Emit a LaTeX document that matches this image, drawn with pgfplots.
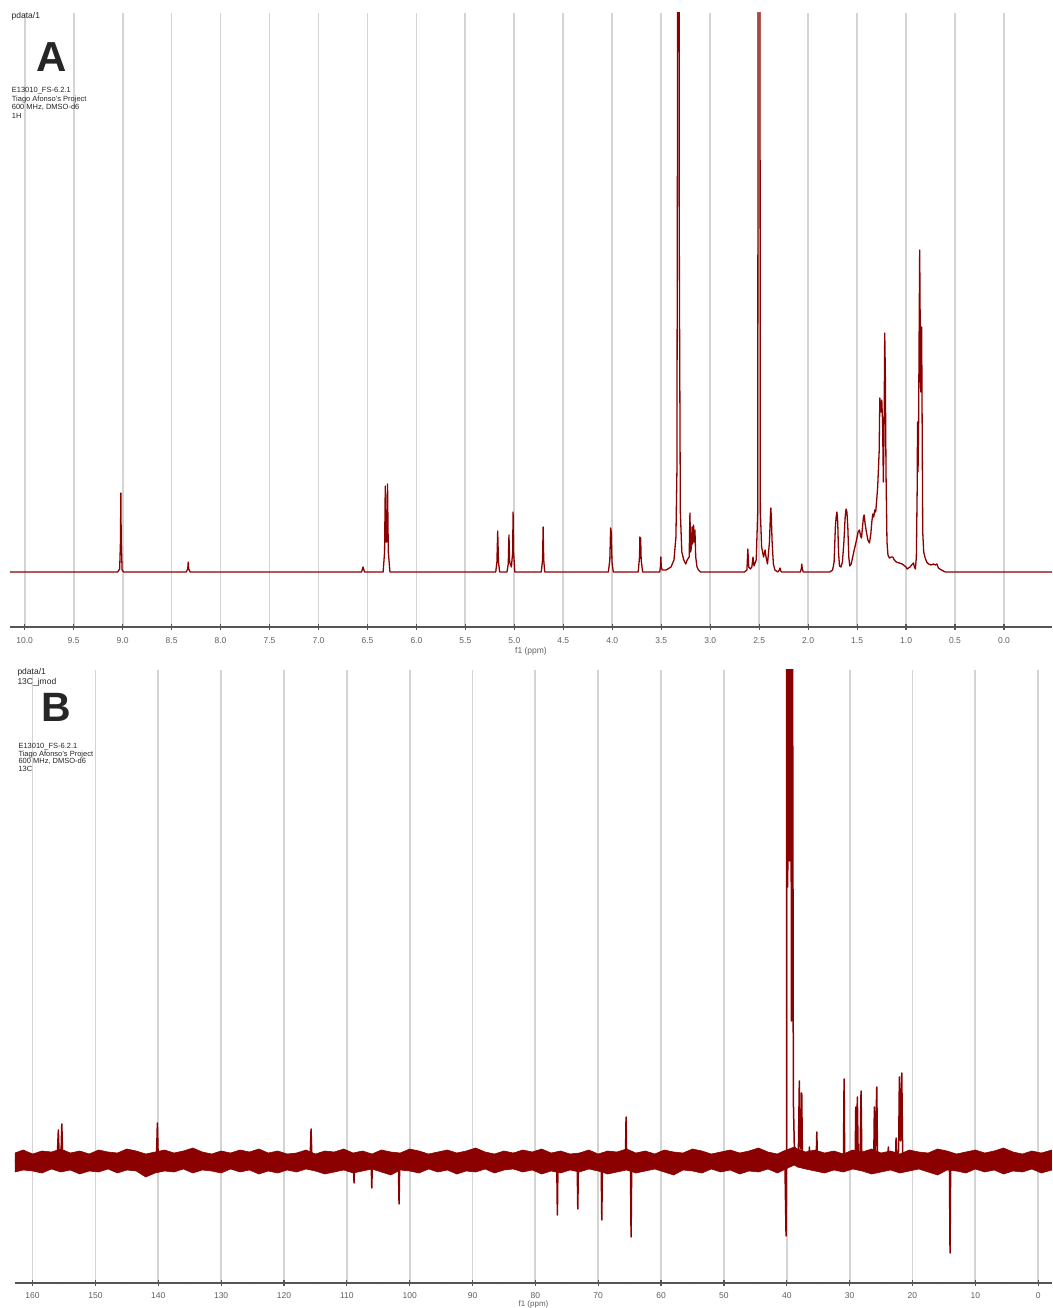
\documentclass[border=0pt]{standalone}
\usepackage{fontspec}
\setmainfont{Liberation Sans}
\usepackage{pgfplots}
\pgfplotsset{compat=1.18}
\definecolor{spec}{RGB}{139,0,0}
\definecolor{gridc}{RGB}{212,212,212}
\definecolor{axc}{RGB}{85,85,85}
\definecolor{tickc}{RGB}{95,95,95}

\pgfplotsset{nmr/.style={
  scale only axis, x dir=reverse,
  axis x line=bottom, axis y line=none,
  axis line style={-, axc, line width=1.8pt},
  xmajorgrids, grid style={gridc, line width=1.8pt},
  ytick=\empty,
  tick align=center, major tick length=6pt, minor tick length=2.5pt,
  every tick/.style={axc, line width=1.2pt},
  minor x tick num=1,
  xticklabel style={font=\fontsize{8.5}{9}\selectfont, text=tickc},
  /pgf/number format/assume math mode=true,
  xlabel style={font=\fontsize{8.5}{9}\selectfont, text=tickc, at={(axis description cs:0.5,0)}, anchor=center},
  clip=true,
}}

\begin{document}
\begin{tikzpicture}
\useasboundingbox (0,0) rectangle (1052pt,1308pt);

% ---------------- Panel A: 1H ----------------
\begin{axis}[nmr, at={(10pt,681pt)}, anchor=south west,
  width=1042pt, height=614pt,
  xmin=-0.49, xmax=10.15, ymin=-55, ymax=559,
  xtick={-0.5,0,...,10}, 
  xticklabel style={yshift=-4pt, /pgf/number format/.cd, fixed, fixed zerofill, precision=1},
  xlabel={f1 (ppm)}, xlabel style={yshift=-24pt}]
\addplot[spec, line width=1.3pt, line join=round] coordinates {
(10.15,0)(9.05,0)(9.03,3)(9.022,30)(9.018,79)(9.014,30)(9.005,2)(8.99,0)
(8.35,0)(8.335,3)(8.33,10)(8.325,3)(8.31,0)
(6.56,0)(6.545,5)(6.53,0)
(6.34,0)(6.325,20)(6.318,86)(6.31,30)(6.302,30)(6.295,88)(6.287,20)(6.27,0)
(5.19,0)(5.178,10)(5.17,41)(5.162,10)(5.15,0)
(5.075,0)(5.062,8)(5.055,37)(5.048,10)(5.03,5)(5.017,20)(5.013,60)(5.008,20)(4.995,0)
(4.725,0)(4.712,12)(4.706,45)(4.700,12)(4.69,0)
(4.04,0)(4.025,12)(4.017,44)(4.01,40)(4.003,10)(3.99,0)
(3.735,0)(3.722,15)(3.718,35)(3.714,25)(3.71,34)(3.705,12)(3.69,0)
(3.515,0)(3.508,6)(3.504,15)(3.5,5)(3.49,2)
(3.45,2)(3.40,5)(3.37,12)(3.35,35)(3.34,100)(3.335,400)(3.33,1000)(3.322,1000)(3.315,300)(3.305,60)(3.29,20)(3.27,12)(3.25,8)(3.235,12)
(3.215,15)(3.207,59)(3.200,20)(3.192,25)(3.185,45)(3.178,28)(3.170,47)(3.164,30)(3.156,42)(3.148,15)(3.135,5)(3.12,2)(3.10,0)
(2.65,0)(2.625,2)(2.616,23)(2.607,5)(2.59,3)(2.575,5)(2.563,15)(2.553,6)(2.53,12)(2.515,60)(2.508,1000)(2.495,1000)(2.488,60)(2.475,25)(2.455,15)(2.44,22)(2.43,15)(2.415,8)(2.395,30)(2.386,55)(2.381,64)(2.376,55)(2.368,30)(2.355,8)(2.34,2)(2.31,0)(2.295,2)(2.287,4)(2.28,1)(2.27,0)
(2.08,0)(2.07,3)(2.065,8)(2.06,3)(2.05,0)
(1.78,0)(1.75,2)(1.735,10)(1.722,45)(1.714,55)(1.706,60)(1.698,50)(1.69,20)(1.68,6)(1.665,5)(1.65,10)(1.635,30)(1.622,55)(1.613,63)(1.604,60)(1.595,45)(1.585,15)(1.575,6)(1.56,8)(1.545,15)(1.53,22)(1.515,28)(1.5,35)(1.49,40)(1.476,42)(1.465,36)(1.455,34)(1.445,45)(1.435,55)(1.428,57)(1.418,48)(1.405,40)(1.39,32)(1.374,29)(1.36,38)(1.35,50)(1.34,58)(1.33,55)(1.32,62)(1.31,60)(1.30,72)(1.29,85)(1.275,120)(1.268,174)(1.262,168)(1.255,160)(1.248,172)(1.24,150)(1.232,90)(1.225,140)(1.218,239)(1.212,200)(1.205,100)(1.195,30)(1.185,17)(1.17,14)(1.15,15)(1.135,15)(1.12,12)(1.10,10)(1.07,9)(1.04,8)(1.00,5)(0.99,3)(0.96,5)(0.935,8)(0.924,9)(0.915,5)(0.905,3)(0.895,15)(0.887,80)(0.883,150)(0.878,100)(0.872,150)(0.866,250)(0.861,322)(0.856,250)(0.851,180)(0.846,200)(0.841,245)(0.836,150)(0.83,40)(0.82,20)(0.805,14)(0.79,10)(0.77,8)(0.745,7)(0.72,8)(0.70,7)(0.685,8)(0.67,4)(0.64,2)(0.6,0)(0.58,0)(-0.49,0)
};
\end{axis}

% ---------------- Panel B: 13C jmod ----------------
\begin{axis}[nmr, at={(15pt,25pt)}, anchor=south west,
  width=1037pt, height=613pt,
  xmin=-2.2, xmax=162.8, ymin=-122, ymax=491,
  xtick={0,10,...,160},
  xticklabel style={yshift=-3pt},
  xlabel={f1 (ppm)}, xlabel style={yshift=-21.5pt, font=\fontsize{8}{9}\selectfont}]
% noise band (upper envelope then lower envelope)
\addplot[fill=spec, draw=spec, line width=0.6pt, line join=miter] coordinates {
(162.8,8)(161.5,11)(160,7)(158.5,10)(157,9)(155.5,12)(154,8)(152.5,10)(151,7)(149.5,11)(148,9)(146.5,8)(145,12)(143.5,10)(142,7)(140.5,9)(139,11)(137.5,8)(136,10)(134.5,13)(133,9)(131.5,7)(130,10)(128.5,8)(127,11)(125.5,9)(124,12)(122.5,8)(121,10)(119.5,7)(118,8)(116.5,11)(115,7)(113.5,10)(112,9)(110.5,12)(109,8)(107.5,10)(106,7)(104.5,11)(103,9)(101.5,8)(100,12)(98.5,10)(97,7)(95.5,9)(94,11)(92.5,8)(91,10)(89.5,13)(88,9)(86.5,7)(85,10)(83.5,8)(82,11)(80.5,9)(79,12)(77.5,8)(76,10)(74.5,7)(73,8)(71.5,11)(70,7)(68.5,10)(67,9)(65.5,12)(64,8)(62.5,10)(61,7)(59.5,11)(58,9)(56.5,8)(55,12)(53.5,10)(52,7)(50.5,9)(49,11)(47.5,8)(46,10)(44.5,13)(43,9)(41.5,7)(40.5,10)(38.8,14)(38.3,12)(37,9)(35.5,11)(34,8)(32.5,10)(31,7)(29.5,11)(28,9)(26.5,12)(25,8)(23.5,10)(22,7)(20.5,11)(19,9)(17.5,8)(16,12)(14.5,10)(13,7)(11.5,9)(10,11)(8.5,8)(7,10)(5.5,13)(4,9)(2.5,7)(1,10)(-0.5,8)(-2.2,11)
(-2.2,-9)(-0.5,-12)(1,-8)(2.5,-11)(4,-10)(5.5,-13)(7,-9)(8.5,-11)(10,-8)(11.5,-12)(13,-10)(14.5,-9)(16,-14)(17.5,-11)(19,-8)(20.5,-10)(22,-12)(23.5,-9)(25,-11)(26.5,-13)(28,-10)(29.5,-8)(31,-11)(32.5,-9)(34,-12)(35.5,-10)(37,-8)(38.3,-6)(38.8,-4)(40.5,-9)(41.5,-12)(43,-8)(44.5,-11)(46,-10)(47.5,-13)(49,-9)(50.5,-11)(52,-8)(53.5,-12)(55,-10)(56.5,-9)(58,-14)(59.5,-11)(61,-8)(62.5,-10)(64,-12)(65.5,-9)(67,-11)(68.5,-13)(70,-10)(71.5,-8)(73,-11)(74.5,-9)(76,-12)(77.5,-10)(79,-13)(80.5,-9)(82,-11)(83.5,-8)(85,-9)(86.5,-12)(88,-8)(89.5,-11)(91,-10)(92.5,-13)(94,-9)(95.5,-11)(97,-8)(98.5,-12)(100,-10)(101.5,-9)(103,-14)(104.5,-11)(106,-8)(107.5,-10)(109,-12)(110.5,-9)(112,-11)(113.5,-13)(115,-10)(116.5,-8)(118,-11)(119.5,-9)(121,-12)(122.5,-10)(124,-13)(125.5,-9)(127,-11)(128.5,-8)(130,-12)(131.5,-10)(133,-9)(134.5,-12)(136,-8)(137.5,-11)(139,-10)(140.5,-12)(142,-16)(143.5,-10)(145,-9)(146.5,-12)(148,-8)(149.5,-11)(151,-10)(152.5,-13)(154,-9)(155.5,-11)(157,-8)(158.5,-12)(160,-10)(161.5,-9)(162.8,-11)
};
% resonances
\addplot[spec, line width=1.5pt, line join=round] coordinates {
(162.8,0)(156.1,0)(155.9,31)(155.75,0)(155.5,0)(155.35,37)(155.2,0)
(140.3,0)(140.14,38)(140.0,0)
(115.85,0)(115.69,32)(115.55,0)
(108.95,0)(108.85,-22)(108.75,0)
(106.13,0)(106.03,-27)(105.93,0)
(101.8,0)(101.69,-43)(101.58,0)
(76.6,0)(76.5,-54)(76.4,0)
(73.35,0)(73.25,-48)(73.15,0)
(69.53,0)(69.43,-59)(69.33,0)
(65.67,0)(65.57,44)(65.47,0)
(64.87,0)(64.77,-76)(64.67,0)
(40.3,0)(40.11,-75)(40.04,0)(40.0,700)(39.85,274)(39.7,700)(39.55,300)(39.4,700)(39.25,140)(39.1,600)(38.95,60)(38.8,15)(38.5,10)(38.15,10)(38.0,80)(37.85,12)(37.75,12)(37.62,68)(37.5,0)
(36.5,0)(36.4,14)(36.3,0)
(35.32,0)(35.22,29)(35.12,0)
(30.98,0)(30.88,82)(30.78,0)
(29.12,0)(29.02,54)(28.9,10)(28.77,64)(28.65,10)(28.35,0)(28.18,70)(28.05,0)
(26.16,0)(26.06,54)(25.9,10)(25.68,74)(25.55,0)
(23.94,0)(23.84,14)(23.74,0)
(22.71,0)(22.61,23)(22.5,5)(22.2,10)(22.08,84)(21.9,20)(21.70,88)(21.55,0)
(14.12,0)(14.02,-92)(13.92,0)
(-2.2,0)
};
\end{axis}

% ---------------- annotations ----------------
\begin{scope}[every node/.style={inner sep=0pt, text=black!85}]
\node[anchor=west, font=\fontsize{8.5}{9}\selectfont] at (11.5pt,1291.5pt) {pdata/1};
\node[anchor=center, font=\fontsize{42}{44}\selectfont\bfseries] at (52pt,1251pt) {A};
\node[anchor=base west, font=\fontsize{7.5}{8}\selectfont] at (11.7pt,1215pt) {E13010\_FS-6.2.1};
\node[anchor=base west, font=\fontsize{7.5}{8}\selectfont] at (11.7pt,1206.5pt) {Tiago Afonso's Project};
\node[anchor=base west, font=\fontsize{7.5}{8}\selectfont] at (11.7pt,1198pt) {600 MHz, DMSO-d6};
\node[anchor=base west, font=\fontsize{7.5}{8}\selectfont] at (11.7pt,1189pt) {1H};

\node[anchor=west, font=\fontsize{8.5}{9}\selectfont] at (17.3pt,635.5pt) {pdata/1};
\node[anchor=west, font=\fontsize{8.5}{9}\selectfont] at (17.3pt,626pt) {13C\_jmod};
\node[anchor=center, font=\fontsize{41}{43}\selectfont\bfseries] at (56.3pt,600.7pt) {B};
\node[anchor=base west, font=\fontsize{7.5}{8}\selectfont] at (18.3pt,559pt) {E13010\_FS-6.2.1};
\node[anchor=base west, font=\fontsize{7.5}{8}\selectfont] at (18.3pt,551.2pt) {Tiago Afonso's Project};
\node[anchor=base west, font=\fontsize{7.5}{8}\selectfont] at (18.3pt,544pt) {600 MHz, DMSO-d6};
\node[anchor=base west, font=\fontsize{7.5}{8}\selectfont] at (18.3pt,536.5pt) {13C};
\end{scope}
\end{tikzpicture}
\end{document}
